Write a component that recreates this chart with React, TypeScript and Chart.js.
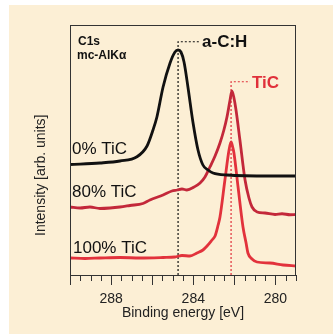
import React, { useEffect, useRef } from "react";
import { Chart, registerables } from "chart.js";

Chart.register(...registerables);

// Binding energy (eV) and intensity (arb. units) for each sample
const energy0 = [290.0, 288.54, 287.57, 286.74, 286.25, 285.96, 285.77, 285.47, 285.13, 284.89, 284.74, 284.6, 284.45, 284.26, 284.01, 283.77, 283.53, 283.28, 283.04, 282.36, 280.27, 279.0];
const intensity0 = [44.2, 44.8, 45.6, 47.3, 51.6, 58.0, 63.2, 75.2, 84.8, 89.2, 90.0, 89.2, 85.2, 75.2, 60.8, 50.0, 44.0, 42.0, 40.8, 40.0, 39.6, 39.6];

const energy80 = [290.0, 289.51, 289.03, 288.54, 288.05, 287.57, 287.08, 286.45, 286.11, 285.47, 285.04, 284.79, 284.55, 284.31, 283.96, 283.67, 283.43, 283.19, 282.94, 282.7, 282.51, 282.36, 282.21, 282.12, 282.02, 281.92, 281.73, 281.48, 281.29, 281.14, 280.89, 280.51, 280.02, 279.68, 279.29, 279.0];
const intensity80 = [27.2, 26.8, 27.2, 26.6, 26.8, 27.2, 27.8, 28.6, 30.0, 32.0, 33.6, 34.0, 34.4, 34.0, 35.2, 36.8, 39.2, 43.2, 47.6, 52.8, 58.0, 63.2, 70.0, 73.6, 70.8, 66.0, 54.0, 38.0, 30.8, 27.2, 25.2, 24.8, 24.2, 24.5, 24.1, 24.2];

const energy100 = [290.0, 289.27, 288.54, 287.57, 286.59, 285.47, 284.89, 284.55, 284.16, 283.82, 283.53, 283.33, 283.09, 282.94, 282.79, 282.7, 282.46, 282.26, 282.16, 282.07, 282.02, 281.82, 281.58, 281.43, 281.34, 281.14, 280.9, 280.27, 279.63, 279.0];
const intensity100 = [6.8, 6.6, 6.8, 7.0, 6.8, 7.0, 7.2, 7.8, 7.6, 8.8, 10.0, 11.6, 14.0, 15.6, 20.0, 23.2, 38.0, 50.0, 53.2, 50.8, 48.8, 35.2, 19.2, 12.8, 8.8, 6.4, 5.2, 4.8, 4.0, 3.6];

// Reference peak markers (dotted leader lines)
const markerCH_x = [284.74, 284.74, 283.67];
const markerCH_y = [0, 93.3, 93.3];
const markerTiC_x = [282.16, 282.16, 281.24];
const markerTiC_y = [0, 77.3, 77.3];

const xMin = 279;
const xMax = 290;
const xLabelValues = [288, 284, 280];

const seriesNames = ["0% TiC", "80% TiC", "100% TiC"];

const FONT = "'Liberation Sans', Arial, Helvetica, sans-serif";

export default function App() {
  const ref = useRef<HTMLCanvasElement | null>(null);

  useEffect(() => {
    if (!ref.current) return;
    const pts = (xs: number[], ys: number[]) => xs.map((x, i) => ({ x, y: ys[i] }));

    const decor = {
      id: "decor",
      afterDraw(chart: any) {
        const { ctx, chartArea: a, scales } = chart;
        const xs = scales.x;
        ctx.save();
        // frame
        ctx.strokeStyle = "#333";
        ctx.lineWidth = 1;
        ctx.strokeRect(a.left + 0.5, a.top + 0.5, a.right - a.left - 1, a.bottom - a.top);
        // tick marks
        for (const t of xs.ticks) {
          const px = Math.round(xs.getPixelForValue(t.value)) + 0.5;
          const len = Math.abs(t.value % 2) < 1e-6 ? 10 : 6;
          ctx.beginPath();
          ctx.moveTo(px, a.bottom);
          ctx.lineTo(px, a.bottom + len);
          ctx.stroke();
        }
        // texts
        ctx.textBaseline = "middle";
        ctx.textAlign = "left";
        ctx.fillStyle = "#111";
        ctx.font = `17px ${FONT}`;
        ctx.fillText(seriesNames[0], a.left + 2, 149);
        ctx.fillText(seriesNames[1], a.left + 2, 192);
        ctx.fillText(seriesNames[2], a.left + 3, 248);
        ctx.font = `bold 12px ${FONT}`;
        ctx.fillText("C1s", a.left + 8, 41.5);
        ctx.fillText("mc-AlKα", a.left + 7, 56);
        ctx.font = `bold 17px ${FONT}`;
        ctx.fillText("a-C:H", xs.getPixelForValue(markerCH_x[2]) + 2, 42);
        ctx.fillStyle = "#e0303a";
        ctx.fillText("TiC", xs.getPixelForValue(markerTiC_x[2]) + 2, 83);
        ctx.restore();
      },
    };

    const chart = new Chart(ref.current, {
      type: "line",
      data: {
        datasets: [
          {
            label: "a-C:H marker",
            data: pts(markerCH_x, markerCH_y),
            borderColor: "#111",
            borderWidth: 1.2,
            borderDash: [2, 2],
            pointRadius: 0,
            order: 5,
          },
          {
            label: "TiC marker",
            data: pts(markerTiC_x, markerTiC_y),
            borderColor: "#e0303a",
            borderWidth: 1.2,
            borderDash: [2, 2],
            pointRadius: 0,
            order: 4,
          },
          {
            label: seriesNames[0],
            data: pts(energy0, intensity0),
            borderColor: "#111111",
            borderWidth: 2.8,
            pointRadius: 0,
            cubicInterpolationMode: "monotone",
            order: 1,
          },
          {
            label: seriesNames[1],
            data: pts(energy80, intensity80),
            borderColor: "#c3283a",
            borderWidth: 2.8,
            pointRadius: 0,
            cubicInterpolationMode: "monotone",
            order: 2,
          },
          {
            label: seriesNames[2],
            data: pts(energy100, intensity100),
            borderColor: "#e2323c",
            borderWidth: 2.8,
            pointRadius: 0,
            cubicInterpolationMode: "monotone",
            order: 3,
          },
        ],
      },
      options: {
        responsive: false,
        animation: false,
        layout: { padding: { top: 25, right: 37, left: 0, bottom: 0 } },
        plugins: { legend: { display: false }, tooltip: { enabled: false } },
        scales: {
          x: {
            type: "linear",
            reverse: true,
            min: xMin,
            max: xMax,
            grid: { display: false },
            border: { display: false },
            ticks: {
              stepSize: 0.5,
              autoSkip: false,
              maxRotation: 0,
              padding: 8,
              color: "#222",
              font: { family: FONT, size: 14 },
              callback: (v: any) => (xLabelValues.includes(Number(v)) ? String(v) : ""),
            },
            title: {
              display: true,
              text: "Binding energy [eV]",
              color: "#222",
              font: { family: FONT, size: 14 },
              padding: { top: 0, bottom: 12 },
            },
            afterFit: (s: any) => {
              s.height = 59;
            },
          },
          y: {
            min: 0,
            max: 100,
            grid: { display: false },
            border: { display: false },
            ticks: { display: false },
            title: {
              display: true,
              text: "Intensity [arb. units]" + "             ",
              color: "#222",
              font: { family: FONT, size: 14 },
              padding: { top: 33, bottom: 0 },
            },
            afterFit: (s: any) => {
              s.width = 70;
            },
          },
        },
      },
      plugins: [decor],
    } as any);
    return () => chart.destroy();
  }, []);

  return (
    <div style={{ position: "fixed", left: 0, top: 0, width: 333, height: 334, background: "#ffffff" }}>
      <div style={{ position: "absolute", left: 9, top: 5, right: 0, bottom: 0, background: "#fcefd5" }} />
      <canvas ref={ref} width={333} height={334} style={{ position: "absolute", left: 0, top: 0 }} />
    </div>
  );
}
